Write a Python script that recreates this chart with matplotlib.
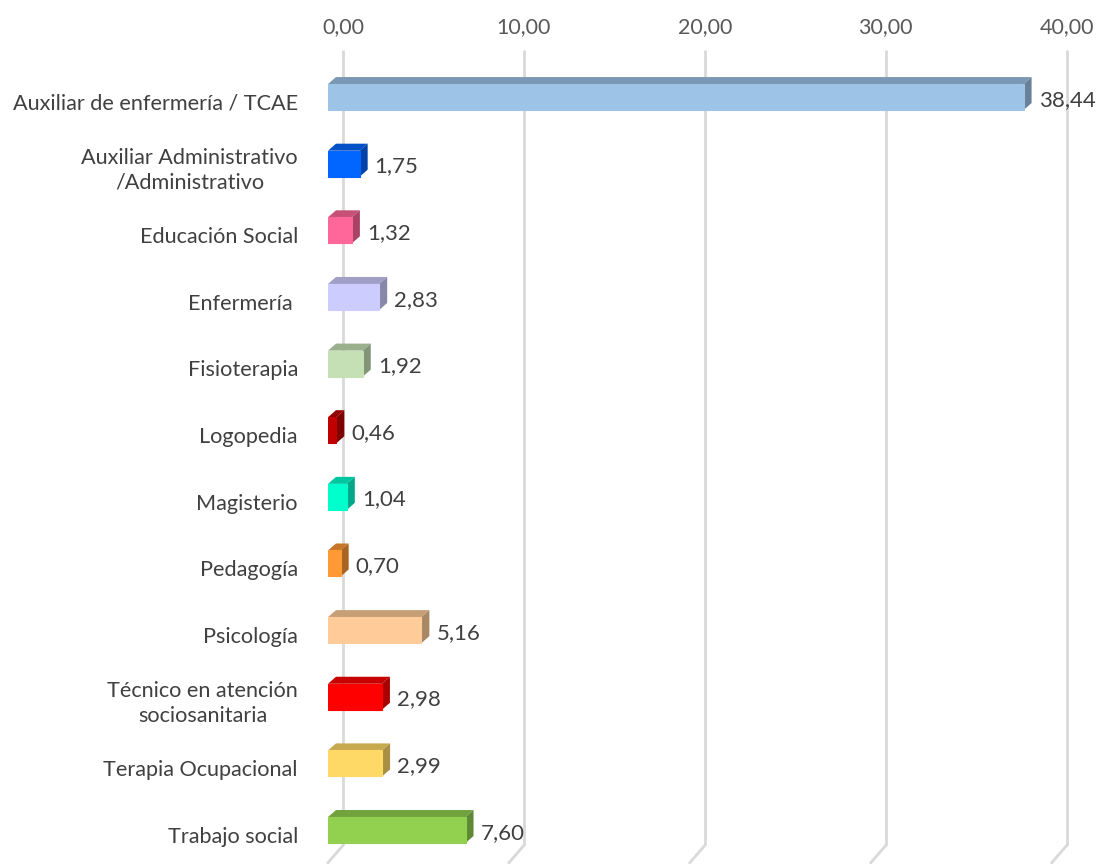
import matplotlib
matplotlib.use("Agg")
import matplotlib.pyplot as plt
from matplotlib.patches import Polygon
from matplotlib.colors import to_rgb

plt.rcParams['font.family'] = ['Lato', 'DejaVu Sans']

# data
categories = ["Auxiliar de enfermería / TCAE",
              "Auxiliar Administrativo\n/Administrativo",
              "Educación Social",
              "Enfermería ",
              "Fisioterapia",
              "Logopedia",
              "Magisterio",
              "Pedagogía",
              "Psicología",
              "Técnico en atención\nsociosanitaria",
              "Terapia Ocupacional",
              "Trabajo social"]
values = [38.44, 1.75, 1.32, 2.83, 1.92, 0.46, 1.04, 0.70, 5.16, 2.98, 2.99, 7.60]
colors = ["#9DC3E6", "#0066FF", "#FF6699", "#CCCCFF", "#C5E0B4", "#C00000",
          "#00FFCC", "#FF9933", "#FFCC99", "#FF0000", "#FFD966", "#92D050"]
ticks = [0, 10, 20, 30, 40]


def shade(c, f):
    r, g, b = to_rgb(c)
    return (r * f, g * f, b * f)


fig = plt.figure(figsize=(11.01, 8.64), dpi=100)
# axes: front plane starts at x=328px, 18.1 px per unit; rows 66.6 px apart
ax = fig.add_axes([328 / 1101, 0, 760 / 1101, 814 / 864])
ax.set_xlim(0, 42)
ax.set_ylim(11.51, -0.706)
for sp in ax.spines.values():
    sp.set_visible(False)
ax.set_xticks([])
ax.set_yticks([])

s = 15 / 18.1          # back wall shift (x units)
floor_back = 11.23
floor_front = 11.49
dx = 8 / 18.1          # bar depth
dy = 7 / 66.6
h = 0.39

# gridlines on back wall + floor diagonals
ax.vlines([t + s for t in ticks], -0.706, floor_back, color="#D9D9D9", lw=2, zorder=0)
for t in ticks:
    ax.plot([t + s, t], [floor_back, floor_front], color="#D9D9D9", lw=2, zorder=0,
            clip_on=False)

rows = list(range(len(categories)))
ax.barh(rows, values, height=h, color=colors, edgecolor=colors, lw=0.8, zorder=3)

for y, v, c in zip(rows, values, colors):
    top = y - h / 2
    bot = y + h / 2
    ax.add_patch(Polygon([(0, top), (v, top), (v + dx, top - dy), (dx, top - dy)],
                         closed=True, facecolor=shade(c, 0.78), edgecolor="none", zorder=2))
    ax.add_patch(Polygon([(v, top), (v, bot), (v + dx, bot - dy), (v + dx, top - dy)],
                         closed=True, facecolor=shade(c, 0.66), edgecolor="none", zorder=2))
    ax.text(v + 0.83, y + 0.04, f"{v:.2f}".replace(".", ","), ha="left", va="center",
            fontsize=16, color="#404040")

for y, lab in zip(rows, categories):
    ax.text(-1.66, y + 0.1, lab, ha="right", va="center", multialignment="center",
            fontsize=15.6, color="#404040", linespacing=1.3, clip_on=False)

# top axis with tick labels centred on the back gridlines
sec = ax.secondary_xaxis('top', functions=(lambda x: x - s, lambda x: x + s))
sec.set_xticks(ticks)
sec.set_xticklabels([f"{t:.2f}".replace(".", ",") for t in ticks])
sec.tick_params(length=0, pad=9, labelsize=15.5, labelcolor="#595959")
sec.spines['top'].set_visible(False)

fig.savefig("out.png", dpi=100)
